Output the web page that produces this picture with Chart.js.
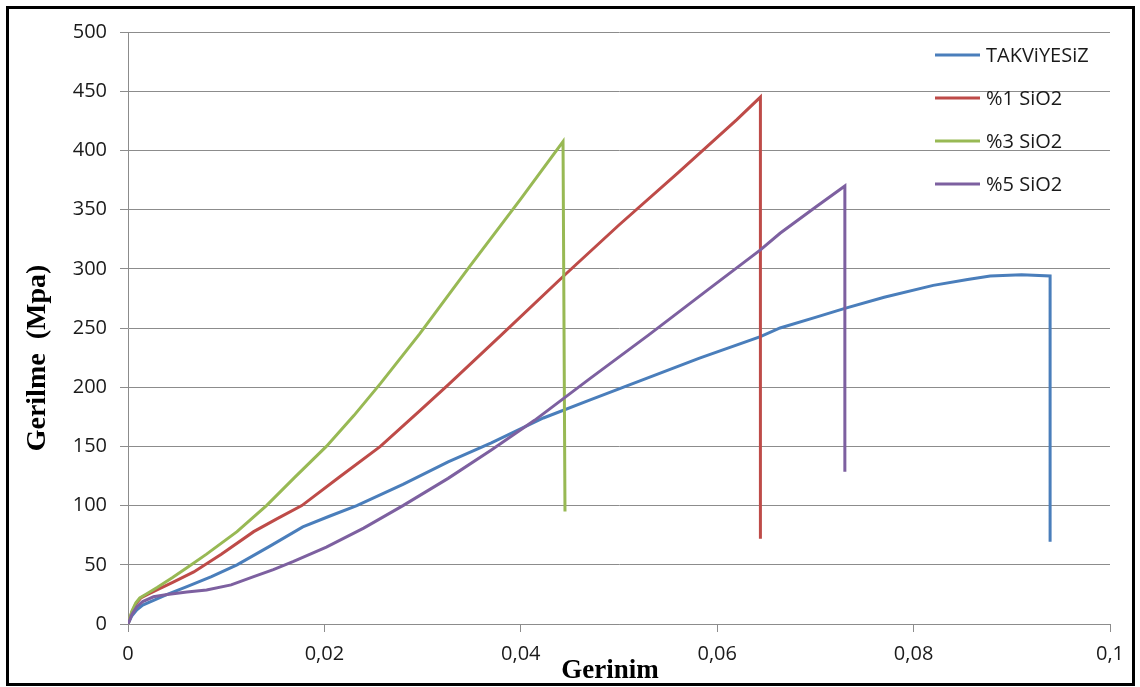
<!DOCTYPE html>
<html>
<head>
<meta charset="utf-8">
<script src="https://cdn.jsdelivr.net/npm/chart.js@4.4.1/dist/chart.umd.min.js"></script>
<style>
    html, body { margin: 0; padding: 0; background: #fff; }
    #wrap { position: relative; width: 1140px; height: 687px; }
    #chart { position: absolute; left: 0; top: 0; }
    #frame {
        position: absolute; left: 6px; top: 6px; width: 1129px; height: 680px;
        box-sizing: border-box; border: 3px solid #000; pointer-events: none;
    }
</style>
</head>
<body>
<div id="wrap">
    <canvas id="chart" width="1140" height="687"></canvas>
    <div id="frame"></div>
</div>
<script>
// strain (x) / stress in MPa (y) for each specimen
const seriesNames = ["TAKViYESiZ", "%1 SiO2", "%3 SiO2", "%5 SiO2"];
const seriesColors = ["#4a7ebb", "#be4b48", "#98b954", "#7d60a0"];

const plainStrain = [0, 0.0004, 0.0009, 0.0015, 0.0026, 0.004, 0.006, 0.0085, 0.0111, 0.0145, 0.0178, 0.0205, 0.0233, 0.028, 0.0326, 0.037, 0.0423, 0.047, 0.052, 0.0582, 0.0644, 0.0664, 0.070, 0.073, 0.077, 0.082, 0.0855, 0.0878, 0.091, 0.0939, 0.0939];
const plainStress = [0, 7, 12, 16, 20, 25, 31.5, 40, 50, 66, 82, 91, 100, 118, 137, 153, 174, 189, 205, 224.5, 242.7, 250, 259, 266.6, 276, 286, 291, 294, 295, 294, 69.5];

const sio1Strain = [0, 0.0004, 0.0008, 0.0013, 0.002, 0.003, 0.0045, 0.0067, 0.0095, 0.0128, 0.0152, 0.0177, 0.0215, 0.0257, 0.0297, 0.0326, 0.038, 0.0445, 0.050, 0.056, 0.062, 0.0644, 0.0644];
const sio1Stress = [0, 10, 17, 22, 25, 29, 35, 44, 59, 78, 89, 100, 124, 150, 180, 202, 244, 295, 337, 381, 426, 445, 72];

const sio3Strain = [0, 0.0004, 0.0008, 0.0012, 0.002, 0.003, 0.0045, 0.006, 0.008, 0.0111, 0.0141, 0.017, 0.0202, 0.023, 0.0257, 0.0297, 0.0348, 0.040, 0.0443, 0.0445];
const sio3Stress = [0, 11, 18, 22, 26, 31, 39, 47.5, 59, 78, 100, 124, 150, 176, 203, 245, 302, 359, 407.4, 95];

const sio5Strain = [0, 0.0004, 0.0009, 0.0015, 0.0026, 0.004, 0.006, 0.008, 0.0105, 0.0128, 0.0148, 0.0168, 0.0202, 0.024, 0.028, 0.0326, 0.037, 0.0414, 0.047, 0.053, 0.059, 0.0644, 0.0664, 0.070, 0.073, 0.073];
const sio5Stress = [0, 8, 14.6, 19, 23, 25, 27, 28.7, 33, 40, 46, 52.6, 65, 81, 100, 123, 147, 172, 207, 244, 282, 316, 330, 352, 370, 128.6];

const xTickLabels = ["0", "0,02", "0,04", "0,06", "0,08", "0,1"];
const yTickLabels = ["0", "50", "100", "150", "200", "250", "300", "350", "400", "450", "500"];

const strains = [plainStrain, sio1Strain, sio3Strain, sio5Strain];
const stresses = [plainStress, sio1Stress, sio3Stress, sio5Stress];

const gridColor = "#8c8c8c";
const tickFont = { family: "Open Sans", size: 20 };

function toPoints(xs, ys) {
    return xs.map((x, i) => ({ x: x, y: ys[i] }));
}

// legend sits inside the plot, top right
const innerLegend = {
    id: "innerLegend",
    afterDraw(chart) {
        const ctx = chart.ctx;
        const area = chart.chartArea;
        ctx.save();
        ctx.font = "20px 'Open Sans'";
        ctx.textBaseline = "middle";
        ctx.fillStyle = "#1a1a1a";
        chart.data.datasets.forEach((ds, i) => {
            const y = area.top + 23 + i * 43;
            ctx.strokeStyle = ds.borderColor;
            ctx.lineWidth = 3;
            ctx.beginPath();
            ctx.moveTo(area.right - 175, y);
            ctx.lineTo(area.right - 130, y);
            ctx.stroke();
            ctx.fillText(ds.label, area.right - 124, y + 1);
        });
        ctx.restore();
    }
};

// bold serif axis titles
const axisTitles = {
    id: "axisTitles",
    afterDraw(chart) {
        const ctx = chart.ctx;
        const area = chart.chartArea;
        ctx.save();
        ctx.font = "bold 27px 'Liberation Serif'";
        ctx.fillStyle = "#000";
        ctx.textAlign = "center";
        ctx.textBaseline = "alphabetic";
        ctx.fillText("Gerinim", (area.left + area.right) / 2 - 9, area.bottom + 54);
        ctx.font = "bold 28px 'Liberation Serif'";
        ctx.translate(38, (area.top + area.bottom) / 2 + 30);
        ctx.rotate(-Math.PI / 2);
        ctx.textBaseline = "middle";
        ctx.fillText("Gerilme  (Mpa)", 0, 0);
        ctx.restore();
    }
};

new Chart(document.getElementById("chart"), {
    type: "scatter",
    data: {
        datasets: seriesNames.map((name, i) => ({
            label: name,
            data: toPoints(strains[i], stresses[i]),
            showLine: true,
            borderColor: seriesColors[i],
            backgroundColor: seriesColors[i],
            borderWidth: 3,
            pointRadius: 0,
            tension: 0,
            order: seriesNames.length - i
        }))
    },
    options: {
        responsive: false,
        animation: false,
        layout: { padding: { top: 32, right: 30, left: 0, bottom: 0 } },
        plugins: {
            legend: { display: false },
            tooltip: { enabled: false }
        },
        scales: {
            x: {
                type: "linear",
                min: 0,
                max: 0.1,
                afterFit(scale) { scale.height = 63; },
                border: { color: gridColor, width: 1 },
                grid: { drawOnChartArea: false, drawTicks: true, tickLength: 8, color: gridColor },
                ticks: {
                    stepSize: 0.02,
                    padding: 10,
                    color: "#1a1a1a",
                    font: tickFont,
                    maxRotation: 0,
                    callback: (v, i) => xTickLabels[i]
                }
            },
            y: {
                type: "linear",
                min: 0,
                max: 500,
                afterFit(scale) { scale.width = 128; },
                border: { color: gridColor, width: 1 },
                grid: { color: gridColor, tickLength: 8 },
                ticks: {
                    stepSize: 50,
                    padding: 13,
                    color: "#1a1a1a",
                    font: tickFont,
                    callback: (v, i) => yTickLabels[i]
                }
            }
        }
    },
    plugins: [innerLegend, axisTitles]
});
</script>
</body>
</html>
